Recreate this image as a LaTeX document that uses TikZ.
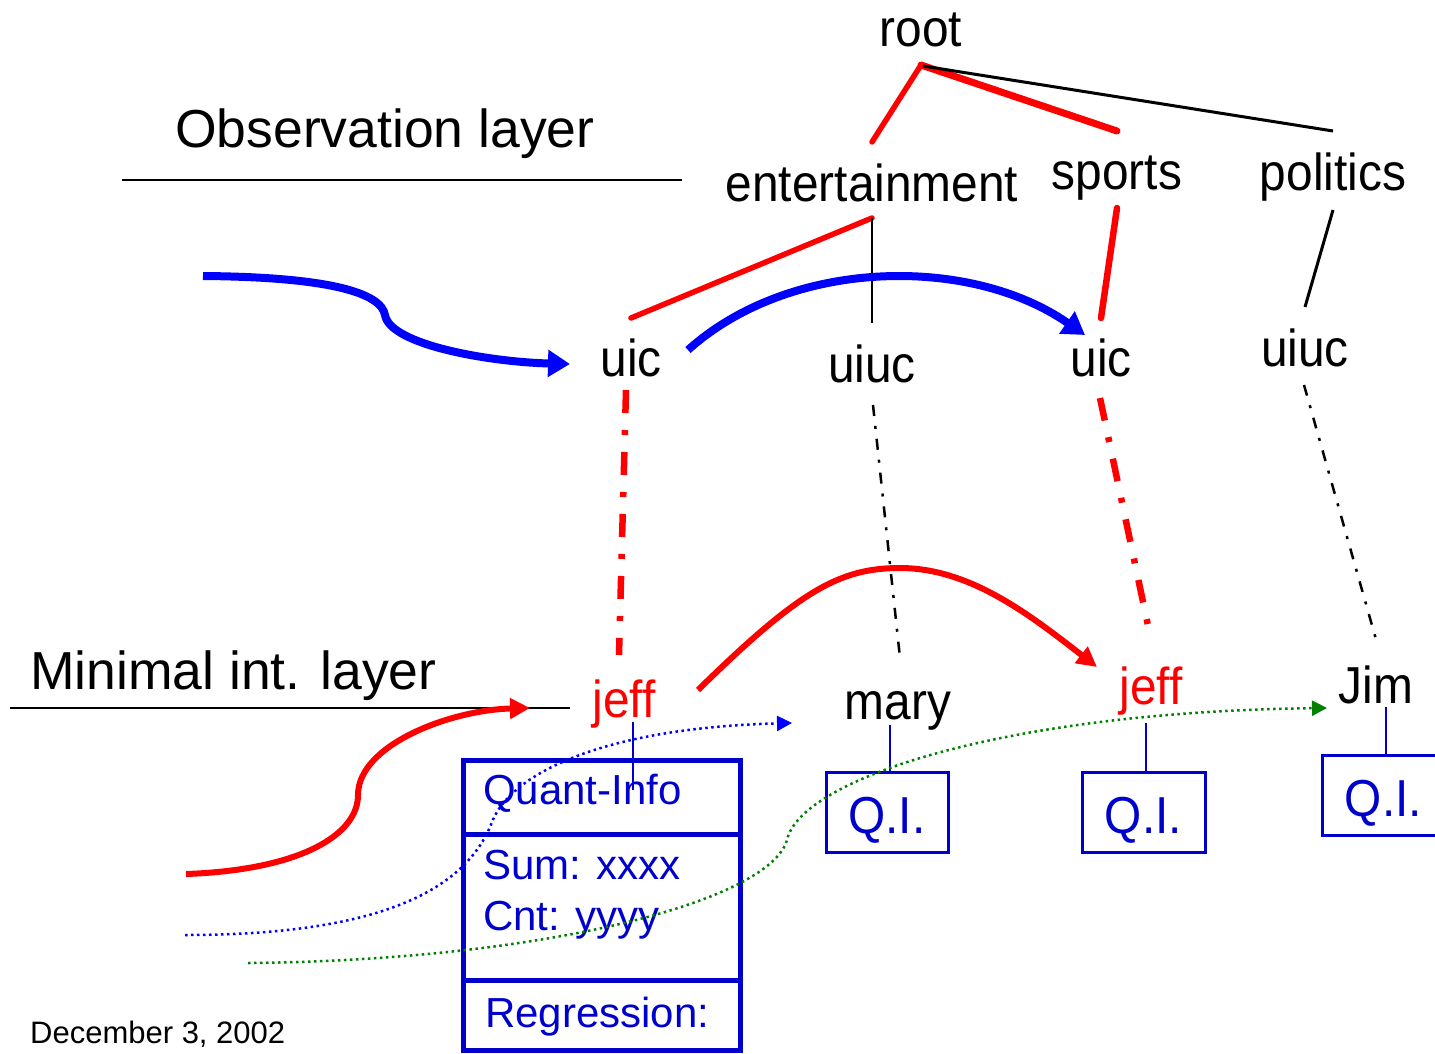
\documentclass[tikz,border=0pt]{standalone}
\usepackage{fontspec}
\setmainfont{Liberation Sans}
\newfontfamily\treefont[FakeStretch=0.92]{Liberation Sans}
\usetikzlibrary{arrows.meta,calc}
\definecolor{arrowblue}{RGB}{0,0,255}
\definecolor{boxblue}{RGB}{0,0,204}
\definecolor{dotgreen}{RGB}{0,128,0}
\definecolor{treered}{RGB}{255,0,0}
\tikzset{
  treelabel/.style={inner sep=0pt, anchor=base, font=\treefont\fontsize{52}{60}\selectfont},
  layerlabel/.style={inner sep=0pt, anchor=base west, font=\fontsize{53.5}{60}\selectfont},
  boxtext/.style={inner sep=0pt, anchor=base west, text=boxblue, font=\fontsize{42}{50}\selectfont},
  datelabel/.style={inner sep=0pt, anchor=base west, font=\fontsize{31}{36}\selectfont},
  layerrule/.style={draw=black, line width=2.5pt},
  redtree/.style={draw=treered, line width=6pt, line cap=round},
  blacktree/.style={draw=black, line width=2.5pt},
  reddash/.style={draw=treered, line width=6.5pt, dash pattern=on 23pt off 17pt on 5pt off 17pt},
  blackdash/.style={draw=black, line width=2.5pt, dash pattern=on 11pt off 10pt on 3pt off 10pt},
  bluethick/.style={draw=arrowblue, line width=8pt, -{Triangle[length=22pt,width=26pt]}},
  redarc/.style={draw=treered, line width=6pt, -{Triangle[length=20pt,width=20pt]}},
  bluedots/.style={draw=arrowblue, line width=2.5pt, dash pattern=on 2.5pt off 3.5pt, -{Triangle[length=15pt,width=15pt]}},
  greendots/.style={draw=dotgreen, line width=2.5pt, dash pattern=on 2.5pt off 3.5pt, -{Triangle[length=15pt,width=15pt]}},
  qiline/.style={draw=boxblue, line width=2.5pt},
  qibox/.style={draw=boxblue, line width=3pt, text=boxblue, inner sep=0pt,
    text height=42pt, text depth=0pt,
    minimum width=122pt, minimum height=80pt, font=\treefont\fontsize{52}{60}\selectfont},
  quantbox/.style={draw=boxblue, line width=5pt, inner sep=0pt,
    minimum width=277pt, minimum height=290pt}
}
\begin{document}
\begin{tikzpicture}[x=1pt,y=-1pt]
\clip (0,0) rectangle (1435,1053);
\fill[white] (0,0) rectangle (1435,1053);

% layer captions and rules
\node[layerlabel] (obs) at (175,147) {Observation layer};
\node[layerlabel] (minl) at (30,689) {Minimal int. layer};
\draw[layerrule] (122,180) -- (682,180);
\draw[layerrule] (10,708) -- (570,708);

% tree labels
\node[treelabel] (root) at (921,46) {root};
\node[treelabel] (ent) at (872,201) {entertainment};
\node[treelabel] (sports) at (1117,189) {sports};
\node[treelabel] (pol) at (1333,190) {politics};
\node[treelabel] (uicL) at (631,376) {uic};
\node[treelabel] (uiucM) at (872,382) {uiuc};
\node[treelabel] (uicR) at (1101,376) {uic};
\node[treelabel] (uiucR) at (1305,366) {uiuc};
\node[treelabel, text=treered] (jeffL) at (624,717) {jeff};
\node[treelabel] (mary) at (898,719) {mary};
\node[treelabel, text=treered] (jeffR) at (1151,704) {jeff};
\node[treelabel] (jim) at (1376,703) {Jim};

% tree edges
\draw[redtree, line width=5.5pt] ($(root.base)+(0,19)$) -- ($(ent.base)+(0,-59)$);
\draw[redtree, line width=7pt] ($(root.base)+(0,19)$) -- ($(sports.base)+(0,-58)$);
\draw[blacktree, line width=3pt] ($(root.base)+(2,20)$) -- ($(pol.base)+(0,-59)$);
\draw[redtree, line width=5.5pt] ($(ent.base)+(0,17)$) -- ($(uicL.base)+(0,-58)$);
\draw[blacktree] ($(ent.base)+(0,17)$) -- ($(uiucM.base)+(0,-59)$);
\draw[redtree, line width=6.5pt] ($(sports.base)+(0,19)$) -- ($(uicR.base)+(0,-58)$);
\draw[blacktree, line width=3pt] ($(pol.base)+(0,20)$) -- ($(uiucR.base)+(0,-59)$);

% observation to minimal-interval links
\draw[reddash] ($(uicL.base)+(-5,14)$) -- ($(jeffL.base)+(-5,-62)$);
\draw[blackdash] ($(uiucM.base)+(1,23)$) -- ($(mary.base)+(2,-61)$);
\draw[reddash] ($(uicR.base)+(-1,22)$) -- ($(jeffR.base)+(-1,-69)$);
\draw[blackdash] ($(uiucR.base)+(-1,19)$) -- ($(jim.base)+(1,-60)$);

% quantitative information boxes
\node[quantbox] (qbox) at (601.5,905.5) {};
\draw[boxblue, line width=5pt] ($(qbox.north west)+(0,76)$) -- ($(qbox.north east)+(0,76)$);
\draw[boxblue, line width=5pt] ($(qbox.north west)+(0,222)$) -- ($(qbox.north east)+(0,222)$);
\node[boxtext] (qhead) at (483,804) {Quant-Info};
\node[boxtext] (qsum) at (483,879) {Sum: xxxx};
\node[boxtext] (qcnt) at (483,930) {Cnt: yyyy};
\node[boxtext] (qreg) at (485,1027) {Regression:};
\draw[qiline] ($(jeffL.base)+(9,5)$) -- ($(jeffL.base)+(9,73)$);

\node[qibox] (qi1) at (887,812) {Q.I.};
\node[qibox, minimum width=123pt] (qi2) at (1143.5,812) {Q.I.};
\node[qibox, minimum width=123pt] (qi3) at (1383.5,795) {Q.I.};
\draw[qiline] ([xshift=3pt,yshift=-6pt]qi1.north |- mary.base) -- ([xshift=3pt]qi1.north);
\draw[qiline] ([xshift=2.5pt,yshift=-19pt]qi2.north |- jeffR.base) -- ([xshift=2.5pt]qi2.north);
\draw[qiline] ([xshift=2.5pt,yshift=-4pt]qi3.north |- jim.base) -- ([xshift=2.5pt]qi3.north);

% free starting points of the incoming arrows
\coordinate (bsStart) at (203,276);
\coordinate (rsStart) at (186,874);
\coordinate (bdStart) at (185,935);
\coordinate (gdStart) at (248,963);

% thick arrows
\draw[bluethick] (bsStart) .. controls (330,277) and (381,293) .. (385,315)
  .. controls (390,345) and (490,362) .. ($(uicL.base)+(-61,-12)$);
\draw[bluethick] ($(uicL.base)+(57,-26)$) .. controls (790,258) and (970,255) .. ($(uicR.base)+(-16,-41)$);
\draw[redarc] ($(jeffL.base)+(74,-27)$) .. controls (800,590) and (840,568) .. (900,568)
  .. controls (970,568) and (1030,615) .. ($(jeffR.base)+(-54,-37)$);
\draw[redarc] (rsStart) .. controls (300,870) and (358,835) .. (358,795)
  .. controls (358,745) and (450,710) .. ($(jeffL.base)+(-94,-9)$);

% dotted arrows
\draw[bluedots] (bdStart) .. controls (390,935) and (468,885) .. (492,822)
  .. controls (510,775) and (600,728) .. ($(mary.base)+(-106,4)$);
\draw[greendots] (gdStart) .. controls (550,960) and (770,900) .. (787,840)
  .. controls (800,780) and (1000,712) .. ($(jim.base)+(-49,5)$);

\node[datelabel] (date) at (30,1043) {December 3, 2002};
\end{tikzpicture}
\end{document}
